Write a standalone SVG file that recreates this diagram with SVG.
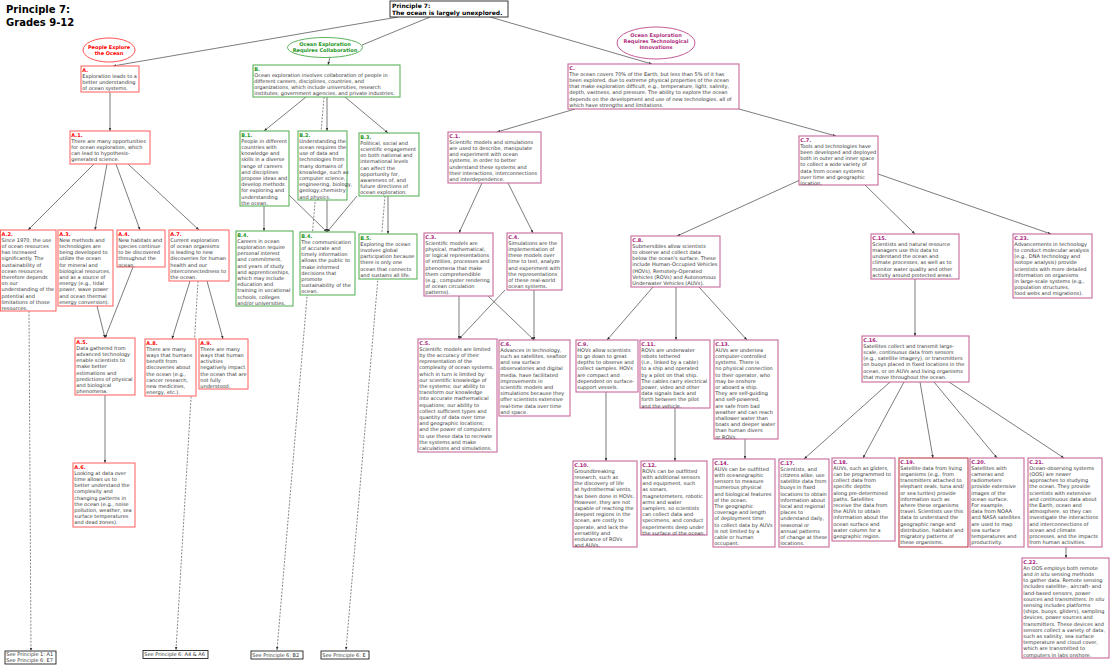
<svg xmlns="http://www.w3.org/2000/svg" width="1110" height="666" viewBox="0 0 1110 666">
<defs>
<style>
.t{font-family:"DejaVu Sans",Verdana,sans-serif;font-size:5px;fill:#333}
.tb{font-family:"DejaVu Sans",Verdana,sans-serif;font-weight:bold}
.lr{font-weight:bold;fill:#f00}
.lg{font-weight:bold;fill:#1a961a}
.lm{font-weight:bold;fill:#a8207c}
.br{fill:#fff;stroke:#ff6b6b;stroke-width:1.1}
.bg{fill:#fff;stroke:#5db35d;stroke-width:1.1}
.bm{fill:#fff;stroke:#c8689a;stroke-width:1.1}
.bk{fill:#fff;stroke:#222;stroke-width:0.9}
.c{stroke:#444;stroke-width:0.7;fill:none;marker-end:url(#ah)}
.n{stroke:#444;stroke-width:0.7;fill:none}
.d{stroke:#555;stroke-width:0.7;stroke-dasharray:2 1.4;fill:none;marker-end:url(#ah)}
</style>
<marker id="ah" viewBox="0 0 6 6" refX="6" refY="3" markerWidth="3.2" markerHeight="3.2" orient="auto" markerUnits="userSpaceOnUse"><path d="M0,0.6 L6,3 L0,5.4z" fill="#333"/></marker>
</defs>
<rect width="1110" height="666" fill="#fff"/>
<text class="tb" font-size="10" fill="#000"><tspan x="6" y="13.3">Principle 7:</tspan><tspan x="6" y="25.5">Grades 9-12</tspan></text>

<g id="connectors">
<path class="c" d="M398,17 L113,66"/>
<path class="n" d="M430,17 L362,45"/>
<path class="c" d="M330,57 L328,65"/>
<path class="c" d="M490,17 L652,64"/>
<path class="d" d="M324,97 L277,650"/>
<path class="d" d="M385,196 L346,650"/>
<path class="d" d="M29,311 L31,651"/>
<path class="d" d="M198,281 L176,650"/>
<path class="c" d="M306,97 L264,131"/>
<path class="c" d="M327,97 L327,131"/>
<path class="c" d="M345,97 L388,133"/>
<path class="c" d="M264,206 L264,231"/>
<path class="c" d="M289,195 L327,232"/>
<path class="c" d="M327,200 L327,232"/>
<path class="c" d="M357,196 L327,232"/>
<path class="c" d="M388,196 L388,234"/>
<path class="c" d="M110,92 L110,131"/>
<path class="c" d="M94,164 L28,230"/>
<path class="c" d="M107,164 L95,230"/>
<path class="c" d="M116,164 L140,230"/>
<path class="c" d="M128,164 L199,230"/>
<path class="c" d="M97,306 L105,338"/>
<path class="c" d="M133,267 L105,338"/>
<path class="c" d="M105,395 L105,463"/>
<path class="c" d="M190,281 L172,339"/>
<path class="c" d="M207,281 L223,339"/>
<path class="c" d="M575,109 L497,132"/>
<path class="c" d="M739,109 L836,136"/>
<path class="c" d="M482,183 L459,233"/>
<path class="c" d="M508,183 L533,233"/>
<path class="c" d="M459,296 L459,339"/>
<path class="c" d="M488,296 L534,340"/>
<path class="c" d="M505,290 L459,339"/>
<path class="c" d="M534,290 L534,340"/>
<path class="c" d="M800,180 L677,236"/>
<path class="c" d="M653,287 L607,340"/>
<path class="c" d="M676,287 L676,340"/>
<path class="c" d="M699,287 L747,340"/>
<path class="c" d="M606,392 L606,461"/>
<path class="c" d="M675,408 L675,461"/>
<path class="c" d="M745,439 L745,459"/>
<path class="c" d="M865,185 L915,234"/>
<path class="c" d="M878,174 L1051,234"/>
<path class="c" d="M915,279 L915,336"/>
<path class="c" d="M890,382 L804,459"/>
<path class="c" d="M904,382 L863,458"/>
<path class="c" d="M920,382 L933,458"/>
<path class="c" d="M934,382 L997,458"/>
<path class="c" d="M949,382 L1064,458"/>
<path class="c" d="M1066,547 L1066,558"/>
</g>

<g id="root"><rect class="bk" x="390" y="1" width="118" height="16"/><text class="tb" font-size="6" fill="#000"><tspan x="392" y="7.6">Principle 7:</tspan><tspan x="392" y="15">The ocean is largely unexplored.</tspan></text></g>

<g id="lpA"><ellipse cx="109" cy="50" rx="26" ry="12" fill="#fff" stroke="#ff4040" stroke-width="0.9"/><text class="tb" font-size="5" fill="#f00" text-anchor="middle"><tspan x="109" y="48.5">People Explore</tspan><tspan x="109" y="54.6">the Ocean</tspan></text></g>
<g id="lpB"><ellipse cx="325" cy="47.5" rx="37.5" ry="10" fill="#fff" stroke="#4aa84a" stroke-width="0.9"/><text class="tb" font-size="5" fill="#1a961a" text-anchor="middle"><tspan x="325" y="46">Ocean Exploration</tspan><tspan x="325" y="52">Requires Collaboration</tspan></text></g>
<g id="lpC"><ellipse cx="656" cy="43" rx="39" ry="16" fill="#fff" stroke="#c04a8a" stroke-width="0.9"/><text class="tb" font-size="5" fill="#b0307f" text-anchor="middle"><tspan x="656" y="36.5">Ocean Exploration</tspan><tspan x="656" y="42.6">Requires Technological</tspan><tspan x="656" y="48.7">Innovations</tspan></text></g>

<g id="nA"><rect class="br" x="81" y="66" width="58" height="26"/><text class="t" x="82.3" y="71.5"><tspan class="lr">A.</tspan><tspan x="82.3" dy="6.2">Exploration leads to a</tspan><tspan x="82.3" dy="6.2">better understanding</tspan><tspan x="82.3" dy="6.2">of ocean systems.</tspan></text></g>
<g id="nA1"><rect class="br" x="70" y="131" width="80" height="33"/><text class="t" x="71.3" y="136.5"><tspan class="lr">A.1.</tspan><tspan x="71.3" dy="6.2">There are many opportunities</tspan><tspan x="71.3" dy="6.2">for ocean exploration, which</tspan><tspan x="71.3" dy="6.2">can lead to hypothesis-</tspan><tspan x="71.3" dy="6.2">generated science.</tspan></text></g>
<g id="nA2"><rect class="br" x="0.5" y="230" width="55.5" height="81"/><text class="t" x="1.6" y="235.5"><tspan class="lr">A.2.</tspan><tspan x="1.6" dy="6.2">Since 1970, the use</tspan><tspan x="1.6" dy="6.2">of ocean resources</tspan><tspan x="1.6" dy="6.2">has increased</tspan><tspan x="1.6" dy="6.2">significantly. The</tspan><tspan x="1.6" dy="6.2">sustainability of</tspan><tspan x="1.6" dy="6.2">ocean resources</tspan><tspan x="1.6" dy="6.2">therefore depends</tspan><tspan x="1.6" dy="6.2">on our</tspan><tspan x="1.6" dy="6.2">understanding of the</tspan><tspan x="1.6" dy="6.2">potential and</tspan><tspan x="1.6" dy="6.2">limitations of those</tspan><tspan x="1.6" dy="6.2">resources.</tspan></text></g>
<g id="nA3"><rect class="br" x="58" y="230" width="55" height="76"/><text class="t" x="59.3" y="235.5"><tspan class="lr">A.3.</tspan><tspan x="59.3" dy="6.2">New methods and</tspan><tspan x="59.3" dy="6.2">technologies are</tspan><tspan x="59.3" dy="6.2">being developed to</tspan><tspan x="59.3" dy="6.2">utilize the ocean</tspan><tspan x="59.3" dy="6.2">for mineral and</tspan><tspan x="59.3" dy="6.2">biological resources,</tspan><tspan x="59.3" dy="6.2">and as a source of</tspan><tspan x="59.3" dy="6.2">energy (e.g., tidal</tspan><tspan x="59.3" dy="6.2">power, wave power</tspan><tspan x="59.3" dy="6.2">and ocean  thermal</tspan><tspan x="59.3" dy="6.2">energy conversion).</tspan></text></g>
<g id="nA4"><rect class="br" x="117" y="230" width="48" height="37"/><text class="t" x="118.3" y="235.5"><tspan class="lr">A.4.</tspan><tspan x="118.3" dy="6.2">New habitats and</tspan><tspan x="118.3" dy="6.2">species continue</tspan><tspan x="118.3" dy="6.2">to be discovered</tspan><tspan x="118.3" dy="6.2">throughout the</tspan><tspan x="118.3" dy="6.2">ocean.</tspan></text></g>
<g id="nA7"><rect class="br" x="169" y="230" width="60" height="51"/><text class="t" x="170.3" y="235.5"><tspan class="lr">A.7.</tspan><tspan x="170.3" dy="6.2">Current exploration</tspan><tspan x="170.3" dy="6.2">of ocean organisms</tspan><tspan x="170.3" dy="6.2">is leading to new</tspan><tspan x="170.3" dy="6.2">discoveries for human</tspan><tspan x="170.3" dy="6.2">health and our</tspan><tspan x="170.3" dy="6.2">interconnectedness to</tspan><tspan x="170.3" dy="6.2">the ocean.</tspan></text></g>
<g id="nA5"><rect class="br" x="75" y="338" width="60" height="57"/><text class="t" x="76.3" y="343.5"><tspan class="lr">A.5.</tspan><tspan x="76.3" dy="6.2">Data gathered from</tspan><tspan x="76.3" dy="6.2">advanced technology</tspan><tspan x="76.3" dy="6.2">enable scientists to</tspan><tspan x="76.3" dy="6.2">make better</tspan><tspan x="76.3" dy="6.2">estimations and</tspan><tspan x="76.3" dy="6.2">predictions of physical</tspan><tspan x="76.3" dy="6.2">and biological</tspan><tspan x="76.3" dy="6.2">phenomena.</tspan></text></g>
<g id="nA8"><rect class="br" x="145" y="339" width="51" height="57"/><text class="t" x="146.3" y="344.5"><tspan class="lr">A.8.</tspan><tspan x="146.3" dy="6.2">There are many</tspan><tspan x="146.3" dy="6.2">ways that humans</tspan><tspan x="146.3" dy="6.2">benefit from</tspan><tspan x="146.3" dy="6.2">discoveries about</tspan><tspan x="146.3" dy="6.2">the ocean (e.g.,</tspan><tspan x="146.3" dy="6.2">cancer research,</tspan><tspan x="146.3" dy="6.2">new medicines,</tspan><tspan x="146.3" dy="6.2">energy, etc.).</tspan></text></g>
<g id="nA9"><rect class="br" x="199" y="339" width="49" height="50"/><text class="t" x="200.3" y="344.5"><tspan class="lr">A.9.</tspan><tspan x="200.3" dy="6.2">There are many</tspan><tspan x="200.3" dy="6.2">ways that human</tspan><tspan x="200.3" dy="6.2">activities</tspan><tspan x="200.3" dy="6.2">negatively impact</tspan><tspan x="200.3" dy="6.2">the ocean that are</tspan><tspan x="200.3" dy="6.2">not fully</tspan><tspan x="200.3" dy="6.2">understood.</tspan></text></g>
<g id="nA6"><rect class="br" x="73" y="463" width="62" height="64"/><text class="t" x="74.3" y="468.5"><tspan class="lr">A.6.</tspan><tspan x="74.3" dy="6.2">Looking at data over</tspan><tspan x="74.3" dy="6.2">time allows us to</tspan><tspan x="74.3" dy="6.2">better understand the</tspan><tspan x="74.3" dy="6.2">complexity and</tspan><tspan x="74.3" dy="6.2">changing patterns in</tspan><tspan x="74.3" dy="6.2">the ocean (e.g., noise</tspan><tspan x="74.3" dy="6.2">pollution, weather, sea</tspan><tspan x="74.3" dy="6.2">surface temperatures</tspan><tspan x="74.3" dy="6.2">and dead zones).</tspan></text></g>

<g id="nB"><rect class="bg" x="253" y="65" width="147" height="32"/><text class="t" x="254.3" y="70.5"><tspan class="lg">B.</tspan><tspan x="254.3" dy="6.2">Ocean exploration involves collaboration of people in</tspan><tspan x="254.3" dy="6.2">different careers, disciplines, countries, and</tspan><tspan x="254.3" dy="6.2">organizations, which include universities, research</tspan><tspan x="254.3" dy="6.2">institutes, government agencies, and private industries.</tspan></text></g>
<g id="nB1"><rect class="bg" x="240" y="131" width="49" height="75"/><text class="t" x="241.3" y="136.5"><tspan class="lg">B.1.</tspan><tspan x="241.3" dy="6.2">People in different</tspan><tspan x="241.3" dy="6.2">countries with</tspan><tspan x="241.3" dy="6.2">knowledge and</tspan><tspan x="241.3" dy="6.2">skills in a diverse</tspan><tspan x="241.3" dy="6.2">range of careers</tspan><tspan x="241.3" dy="6.2">and disciplines</tspan><tspan x="241.3" dy="6.2">propose ideas and</tspan><tspan x="241.3" dy="6.2">develop methods</tspan><tspan x="241.3" dy="6.2">for exploring and</tspan><tspan x="241.3" dy="6.2">understanding</tspan><tspan x="241.3" dy="6.2">the ocean.</tspan></text></g>
<g id="nB2"><rect class="bg" x="298" y="131" width="49" height="69"/><text class="t" x="299.3" y="136.5"><tspan class="lg">B.2.</tspan><tspan x="299.3" dy="6.2">Understanding the</tspan><tspan x="299.3" dy="6.2">ocean requires the</tspan><tspan x="299.3" dy="6.2">use of data and</tspan><tspan x="299.3" dy="6.2">technologies from</tspan><tspan x="299.3" dy="6.2">many domains of</tspan><tspan x="299.3" dy="6.2">knowledge, such as</tspan><tspan x="299.3" dy="6.2">computer science,</tspan><tspan x="299.3" dy="6.2">engineering, biology,</tspan><tspan x="299.3" dy="6.2">geology,chemistry</tspan><tspan x="299.3" dy="6.2">and physics.</tspan></text></g>
<g id="nB3"><rect class="bg" x="359" y="133" width="60" height="63"/><text class="t" x="360.3" y="138.5"><tspan class="lg">B.3.</tspan><tspan x="360.3" dy="6.2">Political, social and</tspan><tspan x="360.3" dy="6.2">scientific engagement</tspan><tspan x="360.3" dy="6.2">on both national and</tspan><tspan x="360.3" dy="6.2">international levels</tspan><tspan x="360.3" dy="6.2">can affect the</tspan><tspan x="360.3" dy="6.2">opportunity for,</tspan><tspan x="360.3" dy="6.2">awareness of, and</tspan><tspan x="360.3" dy="6.2">future directions of</tspan><tspan x="360.3" dy="6.2">ocean exploration.</tspan></text></g>
<g id="nB4a"><rect class="bg" x="236" y="231" width="57" height="75"/><text class="t" x="237.3" y="236.5"><tspan class="lg">B.4.</tspan><tspan x="237.3" dy="6.2">Careers in ocean</tspan><tspan x="237.3" dy="6.2">exploration require</tspan><tspan x="237.3" dy="6.2">personal interest</tspan><tspan x="237.3" dy="6.2">and commitment,</tspan><tspan x="237.3" dy="6.2">and years of study</tspan><tspan x="237.3" dy="6.2">and apprenticeships,</tspan><tspan x="237.3" dy="6.2">which may include</tspan><tspan x="237.3" dy="6.2">education and</tspan><tspan x="237.3" dy="6.2">training in vocational</tspan><tspan x="237.3" dy="6.2">schools, colleges</tspan><tspan x="237.3" dy="6.2">and/or universities.</tspan></text></g>
<g id="nB4b"><rect class="bg" x="300" y="232" width="55" height="63"/><text class="t" x="301.3" y="237.5"><tspan class="lg">B.4.</tspan><tspan x="301.3" dy="6.2">The communication</tspan><tspan x="301.3" dy="6.2">of accurate and</tspan><tspan x="301.3" dy="6.2">timely information</tspan><tspan x="301.3" dy="6.2">allows the public to</tspan><tspan x="301.3" dy="6.2">make informed</tspan><tspan x="301.3" dy="6.2">decisions that</tspan><tspan x="301.3" dy="6.2">promote</tspan><tspan x="301.3" dy="6.2">sustainability of the</tspan><tspan x="301.3" dy="6.2">ocean.</tspan></text></g>
<g id="nB5"><rect class="bg" x="359" y="234" width="58" height="45"/><text class="t" x="360.3" y="239.5"><tspan class="lg">B.5.</tspan><tspan x="360.3" dy="6.2">Exploring the ocean</tspan><tspan x="360.3" dy="6.2">involves global</tspan><tspan x="360.3" dy="6.2">participation because</tspan><tspan x="360.3" dy="6.2">there is only one</tspan><tspan x="360.3" dy="6.2">ocean that connects</tspan><tspan x="360.3" dy="6.2">and sustains all life.</tspan></text></g>

<g id="nC"><rect class="bm" x="568" y="64" width="171" height="45"/><text class="t" x="569.3" y="69.5"><tspan class="lm">C.</tspan><tspan x="569.3" dy="6.2">The ocean covers 70% of the Earth, but less than 5% of it has</tspan><tspan x="569.3" dy="6.2">been explored, due to extreme physical properties of the ocean</tspan><tspan x="569.3" dy="6.2">that make exploration difficult, e.g., temperature, light, salinity,</tspan><tspan x="569.3" dy="6.2">depth, vastness, and pressure. The ability to explore the ocean</tspan><tspan x="569.3" dy="6.2">depends on the development and use of new technologies, all of</tspan><tspan x="569.3" dy="6.2">which have strengths and limitations.</tspan></text></g>
<g id="nC1"><rect class="bm" x="448" y="132" width="93" height="51"/><text class="t" x="449.3" y="137.5"><tspan class="lm">C.1.</tspan><tspan x="449.3" dy="6.2">Scientific models and simulations</tspan><tspan x="449.3" dy="6.2">are used to describe, manipulate</tspan><tspan x="449.3" dy="6.2">and experiment with ocean</tspan><tspan x="449.3" dy="6.2">systems, in order to better</tspan><tspan x="449.3" dy="6.2">understand these systems and</tspan><tspan x="449.3" dy="6.2">their interactions, interconnections</tspan><tspan x="449.3" dy="6.2">and interdependence.</tspan></text></g>
<g id="nC3"><rect class="bm" x="424" y="233" width="69" height="63"/><text class="t" x="425.3" y="238.5"><tspan class="lm">C.3.</tspan><tspan x="425.3" dy="6.2">Scientific models are</tspan><tspan x="425.3" dy="6.2">physical, mathematical,</tspan><tspan x="425.3" dy="6.2">or logical representations</tspan><tspan x="425.3" dy="6.2">of entities, processes and</tspan><tspan x="425.3" dy="6.2">phenomena that make</tspan><tspan x="425.3" dy="6.2">them comprehendible</tspan><tspan x="425.3" dy="6.2">(e.g., computer rendering</tspan><tspan x="425.3" dy="6.2">of ocean circulation</tspan><tspan x="425.3" dy="6.2">patterns).</tspan></text></g>
<g id="nC4"><rect class="bm" x="507" y="233" width="55" height="57"/><text class="t" x="508.3" y="238.5"><tspan class="lm">C.4.</tspan><tspan x="508.3" dy="6.2">Simulations are the</tspan><tspan x="508.3" dy="6.2">implementation of</tspan><tspan x="508.3" dy="6.2">these models over</tspan><tspan x="508.3" dy="6.2">time to test, analyze</tspan><tspan x="508.3" dy="6.2">and experiment with</tspan><tspan x="508.3" dy="6.2">the representations</tspan><tspan x="508.3" dy="6.2">of these real-world</tspan><tspan x="508.3" dy="6.2">ocean systems.</tspan></text></g>
<g id="nC5"><rect class="bm" x="418" y="339" width="79" height="113"/><text class="t" x="419.3" y="344.5"><tspan class="lm">C.5.</tspan><tspan x="419.3" dy="6.2">Scientific models are limited</tspan><tspan x="419.3" dy="6.2">by the accuracy of their</tspan><tspan x="419.3" dy="6.2">representation of the</tspan><tspan x="419.3" dy="6.2">complexity of ocean systems,</tspan><tspan x="419.3" dy="6.2">which in turn is limited by:</tspan><tspan x="419.3" dy="6.2">our scientific knowledge of</tspan><tspan x="419.3" dy="6.2">the systems; our ability to</tspan><tspan x="419.3" dy="6.2">transform our knowledge</tspan><tspan x="419.3" dy="6.2">into accurate mathematical</tspan><tspan x="419.3" dy="6.2">equations; our ability to</tspan><tspan x="419.3" dy="6.2">collect sufficient types and</tspan><tspan x="419.3" dy="6.2">quantity of data over time</tspan><tspan x="419.3" dy="6.2">and geographic locations;</tspan><tspan x="419.3" dy="6.2">and the power of computers</tspan><tspan x="419.3" dy="6.2">to use these data to recreate</tspan><tspan x="419.3" dy="6.2">the systems and make</tspan><tspan x="419.3" dy="6.2">calculations and simulations.</tspan></text></g>
<g id="nC6"><rect class="bm" x="499" y="340" width="71" height="76"/><text class="t" x="500.3" y="345.5"><tspan class="lm">C.6.</tspan><tspan x="500.3" dy="6.2">Advances in technology,</tspan><tspan x="500.3" dy="6.2">such as satellites, seafloor</tspan><tspan x="500.3" dy="6.2">and sea surface</tspan><tspan x="500.3" dy="6.2">observatories and digital</tspan><tspan x="500.3" dy="6.2">media, have facilitated</tspan><tspan x="500.3" dy="6.2">improvements in</tspan><tspan x="500.3" dy="6.2">scientific models and</tspan><tspan x="500.3" dy="6.2">simulations because they</tspan><tspan x="500.3" dy="6.2">offer scientists extensive</tspan><tspan x="500.3" dy="6.2">real-time data over time</tspan><tspan x="500.3" dy="6.2">and space.</tspan></text></g>
<g id="nC7"><rect class="bm" x="799" y="136" width="79" height="49"/><text class="t" x="800.3" y="141.5"><tspan class="lm">C.7.</tspan><tspan x="800.3" dy="6.2">Tools and technologies have</tspan><tspan x="800.3" dy="6.2">been developed and deployed</tspan><tspan x="800.3" dy="6.2">both in outer and inner space</tspan><tspan x="800.3" dy="6.2">to collect a wide variety of</tspan><tspan x="800.3" dy="6.2">data from ocean systems</tspan><tspan x="800.3" dy="6.2">over time and geographic</tspan><tspan x="800.3" dy="6.2">location.</tspan></text></g>
<g id="nC8"><rect class="bm" x="631" y="236" width="89" height="51"/><text class="t" x="632.3" y="241.5"><tspan class="lm">C.8.</tspan><tspan x="632.3" dy="6.2">Submersibles allow scientists</tspan><tspan x="632.3" dy="6.2">to observe and collect data</tspan><tspan x="632.3" dy="6.2">below the ocean's surface. These</tspan><tspan x="632.3" dy="6.2">include Human-Occupied Vehicles</tspan><tspan x="632.3" dy="6.2">(HOVs), Remotely-Operated</tspan><tspan x="632.3" dy="6.2">Vehicles (ROVs) and Autonomous</tspan><tspan x="632.3" dy="6.2">Underwater Vehicles (AUVs).</tspan></text></g>
<g id="nC9"><rect class="bm" x="576" y="340" width="62" height="52"/><text class="t" x="577.3" y="345.5"><tspan class="lm">C.9.</tspan><tspan x="577.3" dy="6.2">HOVs allow scientists</tspan><tspan x="577.3" dy="6.2">to go down to great</tspan><tspan x="577.3" dy="6.2">depths to observe and</tspan><tspan x="577.3" dy="6.2">collect samples. HOVs</tspan><tspan x="577.3" dy="6.2">are compact and</tspan><tspan x="577.3" dy="6.2">dependent on surface-</tspan><tspan x="577.3" dy="6.2">support vessels.</tspan></text></g>
<g id="nC11"><rect class="bm" x="640" y="340" width="70" height="68"/><text class="t" x="641.3" y="345.5"><tspan class="lm">C.11.</tspan><tspan x="641.3" dy="6.2">ROVs are underwater</tspan><tspan x="641.3" dy="6.2">robots tethered</tspan><tspan x="641.3" dy="6.2">(i.e., linked by a cable)</tspan><tspan x="641.3" dy="6.2">to a ship and operated</tspan><tspan x="641.3" dy="6.2">by a pilot on that ship.</tspan><tspan x="641.3" dy="6.2">The cables carry electrical</tspan><tspan x="641.3" dy="6.2">power, video and other</tspan><tspan x="641.3" dy="6.2">data signals back and</tspan><tspan x="641.3" dy="6.2">forth between the pilot</tspan><tspan x="641.3" dy="6.2">and the vehicle.</tspan></text></g>
<g id="nC13"><rect class="bm" x="714" y="340" width="64" height="99"/><text class="t" x="715.3" y="345.5"><tspan class="lm">C.13.</tspan><tspan x="715.3" dy="6.2">AUVs are undersea</tspan><tspan x="715.3" dy="6.2">computer-controlled</tspan><tspan x="715.3" dy="6.2">systems. There is</tspan><tspan x="715.3" dy="6.2">no physical connection</tspan><tspan x="715.3" dy="6.2">to their operator, who</tspan><tspan x="715.3" dy="6.2">may be onshore</tspan><tspan x="715.3" dy="6.2">or aboard a ship.</tspan><tspan x="715.3" dy="6.2">They are self-guiding</tspan><tspan x="715.3" dy="6.2">and self-powered,</tspan><tspan x="715.3" dy="6.2">are safe from bad</tspan><tspan x="715.3" dy="6.2">weather and can reach</tspan><tspan x="715.3" dy="6.2">shallower water than</tspan><tspan x="715.3" dy="6.2">boats and deeper water</tspan><tspan x="715.3" dy="6.2">than human divers</tspan><tspan x="715.3" dy="6.2">or ROVs.</tspan></text></g>
<g id="nC10"><rect class="bm" x="573" y="461" width="64" height="86"/><text class="t" x="574.3" y="466.5"><tspan class="lm">C.10.</tspan><tspan x="574.3" dy="6.2">Groundbreaking</tspan><tspan x="574.3" dy="6.2">research, such as</tspan><tspan x="574.3" dy="6.2">the discovery of life</tspan><tspan x="574.3" dy="6.2">at hydrothermal vents,</tspan><tspan x="574.3" dy="6.2">has been done in HOVs.</tspan><tspan x="574.3" dy="6.2">However, they are not</tspan><tspan x="574.3" dy="6.2">capable of reaching the</tspan><tspan x="574.3" dy="6.2">deepest regions in the</tspan><tspan x="574.3" dy="6.2">ocean, are costly to</tspan><tspan x="574.3" dy="6.2">operate, and lack the</tspan><tspan x="574.3" dy="6.2">versatility and</tspan><tspan x="574.3" dy="6.2">endurance of ROVs</tspan><tspan x="574.3" dy="6.2">and AUVs.</tspan></text></g>
<g id="nC12"><rect class="bm" x="641" y="461" width="66" height="74"/><text class="t" x="642.3" y="466.5"><tspan class="lm">C.12.</tspan><tspan x="642.3" dy="6.2">ROVs can be outfitted</tspan><tspan x="642.3" dy="6.2">with additional sensors</tspan><tspan x="642.3" dy="6.2">and equipment, such</tspan><tspan x="642.3" dy="6.2">as sonars,</tspan><tspan x="642.3" dy="6.2">magnetometers, robotic</tspan><tspan x="642.3" dy="6.2">arms and water</tspan><tspan x="642.3" dy="6.2">samplers, so scientists</tspan><tspan x="642.3" dy="6.2">can collect data and</tspan><tspan x="642.3" dy="6.2">specimens, and conduct</tspan><tspan x="642.3" dy="6.2">experiments deep under</tspan><tspan x="642.3" dy="6.2">the surface of the ocean.</tspan></text></g>
<g id="nC14"><rect class="bm" x="713" y="459" width="62" height="88"/><text class="t" x="714.3" y="464.5"><tspan class="lm">C.14.</tspan><tspan x="714.3" dy="6.2">AUVs can be outfitted</tspan><tspan x="714.3" dy="6.2">with oceanographic</tspan><tspan x="714.3" dy="6.2">sensors to measure</tspan><tspan x="714.3" dy="6.2">numerous physical</tspan><tspan x="714.3" dy="6.2">and biological features</tspan><tspan x="714.3" dy="6.2">of the ocean.</tspan><tspan x="714.3" dy="6.2">The geographic</tspan><tspan x="714.3" dy="6.2">coverage and length</tspan><tspan x="714.3" dy="6.2">of deployment time</tspan><tspan x="714.3" dy="6.2">to collect data by AUVs</tspan><tspan x="714.3" dy="6.2">is not limited by a</tspan><tspan x="714.3" dy="6.2">cable or human</tspan><tspan x="714.3" dy="6.2">occupant.</tspan></text></g>
<g id="nC15"><rect class="bm" x="871" y="234" width="88" height="45"/><text class="t" x="872.3" y="239.5"><tspan class="lm">C.15.</tspan><tspan x="872.3" dy="6.2">Scientists and natural resource</tspan><tspan x="872.3" dy="6.2">managers use this data to</tspan><tspan x="872.3" dy="6.2">understand the ocean and</tspan><tspan x="872.3" dy="6.2">climate processes, as well as to</tspan><tspan x="872.3" dy="6.2">monitor water quality and other</tspan><tspan x="872.3" dy="6.2">activity around protected areas.</tspan></text></g>
<g id="nC23"><rect class="bm" x="1013" y="234" width="79" height="64"/><text class="t" x="1014.3" y="239.5"><tspan class="lm">C.23.</tspan><tspan x="1014.3" dy="6.2">Advancements in technology</tspan><tspan x="1014.3" dy="6.2">to conduct molecular analysis</tspan><tspan x="1014.3" dy="6.2">(e.g., DNA technology and</tspan><tspan x="1014.3" dy="6.2">isotope analysis) provide</tspan><tspan x="1014.3" dy="6.2">scientists with more detailed</tspan><tspan x="1014.3" dy="6.2">information on organisms</tspan><tspan x="1014.3" dy="6.2">in large-scale systems (e.g.,</tspan><tspan x="1014.3" dy="6.2">population structures,</tspan><tspan x="1014.3" dy="6.2">food webs and migrations).</tspan></text></g>
<g id="nC16"><rect class="bm" x="862" y="336" width="107" height="46"/><text class="t" x="863.3" y="341.5"><tspan class="lm">C.16.</tspan><tspan x="863.3" dy="6.2">Satellites collect and transmit large-</tspan><tspan x="863.3" dy="6.2">scale, continuous data from sensors</tspan><tspan x="863.3" dy="6.2">(e.g., satellite imagery), or transmitters</tspan><tspan x="863.3" dy="6.2">on buoys placed in fixed locations in the</tspan><tspan x="863.3" dy="6.2">ocean, or on AUVs and living organisms</tspan><tspan x="863.3" dy="6.2">that move throughout the ocean.</tspan></text></g>
<g id="nC17"><rect class="bm" x="779" y="459" width="50" height="88"/><text class="t" x="780.3" y="464.5"><tspan class="lm">C.17.</tspan><tspan x="780.3" dy="6.2">Scientists, and</tspan><tspan x="780.3" dy="6.2">citizens alike, use</tspan><tspan x="780.3" dy="6.2">satellite data from</tspan><tspan x="780.3" dy="6.2">buoys in fixed</tspan><tspan x="780.3" dy="6.2">locations to obtain</tspan><tspan x="780.3" dy="6.2">information about</tspan><tspan x="780.3" dy="6.2">local and regional</tspan><tspan x="780.3" dy="6.2">places to</tspan><tspan x="780.3" dy="6.2">understand daily,</tspan><tspan x="780.3" dy="6.2">seasonal or</tspan><tspan x="780.3" dy="6.2">annual patterns</tspan><tspan x="780.3" dy="6.2">of change at these</tspan><tspan x="780.3" dy="6.2">locations.</tspan></text></g>
<g id="nC18"><rect class="bm" x="832" y="458" width="63" height="83"/><text class="t" x="833.3" y="463.5"><tspan class="lm">C.18.</tspan><tspan x="833.3" dy="6.2">AUVs, such as gliders,</tspan><tspan x="833.3" dy="6.2">can be programmed to</tspan><tspan x="833.3" dy="6.2">collect data from</tspan><tspan x="833.3" dy="6.2">specific depths</tspan><tspan x="833.3" dy="6.2">along pre-determined</tspan><tspan x="833.3" dy="6.2">paths. Satellites</tspan><tspan x="833.3" dy="6.2">receive the data from</tspan><tspan x="833.3" dy="6.2">the AUVs to obtain</tspan><tspan x="833.3" dy="6.2">information about the</tspan><tspan x="833.3" dy="6.2">ocean surface and</tspan><tspan x="833.3" dy="6.2">water column for a</tspan><tspan x="833.3" dy="6.2">geographic region.</tspan></text></g>
<g id="nC19"><rect fill="#fff" stroke="#c0404f" stroke-width="1.1" x="899" y="458" width="69" height="89"/><text class="t" x="900.3" y="463.5"><tspan class="lm">C.19.</tspan><tspan x="900.3" dy="6.2">Satellite data from living</tspan><tspan x="900.3" dy="6.2">organisms (e.g., from</tspan><tspan x="900.3" dy="6.2">transmitters attached to</tspan><tspan x="900.3" dy="6.2">elephant seals, tuna and/</tspan><tspan x="900.3" dy="6.2">or sea turtles) provide</tspan><tspan x="900.3" dy="6.2">information such as</tspan><tspan x="900.3" dy="6.2">where these organisms</tspan><tspan x="900.3" dy="6.2">travel. Scientists use this</tspan><tspan x="900.3" dy="6.2">data to understand the</tspan><tspan x="900.3" dy="6.2">geographic range and</tspan><tspan x="900.3" dy="6.2">distribution, habitats and</tspan><tspan x="900.3" dy="6.2">migratory patterns of</tspan><tspan x="900.3" dy="6.2">these organisms.</tspan></text></g>
<g id="nC20"><rect class="bm" x="970" y="458" width="54" height="89"/><text class="t" x="971.3" y="463.5"><tspan class="lm">C.20.</tspan><tspan x="971.3" dy="6.2">Satellites with</tspan><tspan x="971.3" dy="6.2">cameras and</tspan><tspan x="971.3" dy="6.2">radiometers</tspan><tspan x="971.3" dy="6.2">provide extensive</tspan><tspan x="971.3" dy="6.2">images of the</tspan><tspan x="971.3" dy="6.2">ocean surface.</tspan><tspan x="971.3" dy="6.2">For example,</tspan><tspan x="971.3" dy="6.2">data from NOAA</tspan><tspan x="971.3" dy="6.2">and NASA satellites</tspan><tspan x="971.3" dy="6.2">are used to map</tspan><tspan x="971.3" dy="6.2">sea surface</tspan><tspan x="971.3" dy="6.2">temperatures and</tspan><tspan x="971.3" dy="6.2">productivity.</tspan></text></g>
<g id="nC21"><rect class="bm" x="1028" y="458" width="74" height="89"/><text class="t" x="1029.3" y="463.5"><tspan class="lm">C.21.</tspan><tspan x="1029.3" dy="6.2">Ocean-observing systems</tspan><tspan x="1029.3" dy="6.2">(OOS) are newer</tspan><tspan x="1029.3" dy="6.2">approaches to studying</tspan><tspan x="1029.3" dy="6.2">the ocean. They provide</tspan><tspan x="1029.3" dy="6.2">scientists with extensive</tspan><tspan x="1029.3" dy="6.2">and continuous data about</tspan><tspan x="1029.3" dy="6.2">the Earth, ocean and</tspan><tspan x="1029.3" dy="6.2">atmosphere, so they can</tspan><tspan x="1029.3" dy="6.2">investigate the interactions</tspan><tspan x="1029.3" dy="6.2">and interconnections of</tspan><tspan x="1029.3" dy="6.2">ocean and climate</tspan><tspan x="1029.3" dy="6.2">processes, and the impacts</tspan><tspan x="1029.3" dy="6.2">from human activities.</tspan></text></g>
<g id="nC22"><rect class="bm" x="1022" y="558" width="87" height="100"/><text class="t" x="1023.3" y="563.5"><tspan class="lm">C.22.</tspan><tspan x="1023.3" dy="6.2">An OOS employs both remote</tspan><tspan x="1023.3" dy="6.2">and <tspan font-style="italic">in situ</tspan> sensing methods</tspan><tspan x="1023.3" dy="6.2">to gather data. Remote sensing</tspan><tspan x="1023.3" dy="6.2">includes satellite-, aircraft- and</tspan><tspan x="1023.3" dy="6.2">land-based sensors, power</tspan><tspan x="1023.3" dy="6.2">sources and transmitters. <tspan font-style="italic">In situ</tspan></tspan><tspan x="1023.3" dy="6.2">sensing includes platforms</tspan><tspan x="1023.3" dy="6.2">(ships, buoys, gliders), sampling</tspan><tspan x="1023.3" dy="6.2">devices, power sources and</tspan><tspan x="1023.3" dy="6.2">transmitters. These devices and</tspan><tspan x="1023.3" dy="6.2">sensors collect a variety of data,</tspan><tspan x="1023.3" dy="6.2">such as salinity, sea surface</tspan><tspan x="1023.3" dy="6.2">temperature and cloud cover,</tspan><tspan x="1023.3" dy="6.2">which are transmitted to</tspan><tspan x="1023.3" dy="6.2">computers in labs onshore.</tspan></text></g>

<g id="seeP1"><rect class="bk" x="5" y="651" width="51" height="13"/><text class="t" fill="#222"><tspan x="6.3" y="656.3">See Principle 1: A1</tspan><tspan x="6.3" y="662.4">See Principle 6: E7</tspan></text></g>
<g id="seeA4"><rect class="bk" x="143" y="650.5" width="65" height="8"/><text class="t" x="144.3" y="656.3" fill="#222">See Principle 6: A4 &amp; A6</text></g>
<g id="seeB2"><rect class="bk" x="251" y="651" width="52" height="8"/><text class="t" x="252.3" y="656.8" fill="#222">See Principle 6: B2</text></g>
<g id="seeE"><rect class="bk" x="321" y="651" width="48" height="8"/><text class="t" x="322.3" y="656.8" fill="#222">See Principle 6: E</text></g>
</svg>
